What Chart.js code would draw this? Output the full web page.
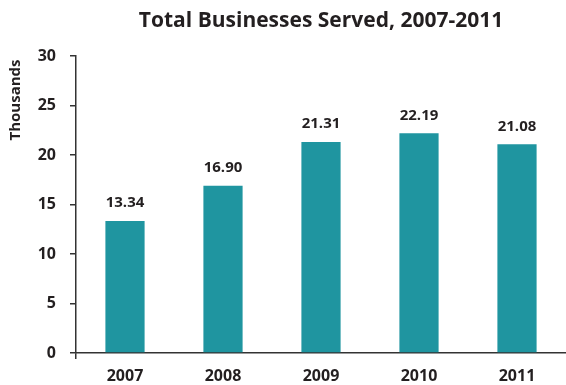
<!DOCTYPE html>
<html>
<head>
<meta charset="utf-8">
<script src="https://cdn.jsdelivr.net/npm/chart.js@4"></script>
<style>
  html, body { margin: 0; padding: 0; background: #fff; }
  #wrap { width: 566px; height: 385px; }
</style>
</head>
<body>
<div id="wrap"><canvas id="chartNegocios"></canvas></div>
<script>
// Datos de la gráfica
const years = ['2007', '2008', '2009', '2010', '2011'];
const businesses = [13.34, 16.90, 21.31, 22.19, 21.08];
const yTicks = [0, 5, 10, 15, 20, 25, 30];

const TEXT = '#231f20';
const TEAL = '#1f95a0';
const FONT = "'Open Sans', sans-serif";

// Título, etiqueta del eje y valores sobre las barras
const extras = {
    id: 'extras',
    afterDraw(chart) {
        const ctx = chart.ctx;
        const area = chart.chartArea;
        ctx.save();
        ctx.fillStyle = TEXT;

        ctx.font = 'bold 21px ' + FONT;
        ctx.textAlign = 'center';
        ctx.textBaseline = 'middle';
        ctx.fillText('Total Businesses Served, 2007-2011', (area.left + area.right) / 2, 21);

        ctx.save();
        ctx.translate(16, 100);
        ctx.rotate(-Math.PI / 2);
        ctx.font = 'bold 15px ' + FONT;
        ctx.fillText('Thousands', 0, 0);
        ctx.restore();

        ctx.font = 'bold 15px ' + FONT;
        ctx.textBaseline = 'middle';
        chart.getDatasetMeta(0).data.forEach((bar, i) => {
            ctx.fillText(businesses[i].toFixed(2), bar.x, bar.y - 18);
        });
        ctx.restore();
    }
};

new Chart(document.getElementById('chartNegocios'), {
    type: 'bar',
    data: {
        labels: years,
        datasets: [{
            data: businesses,
            backgroundColor: TEAL,
            barPercentage: 0.4,
            categoryPercentage: 1
        }]
    },
    options: {
        responsive: true,
        maintainAspectRatio: false,
        animation: false,
        layout: { padding: { top: 56, right: 0, left: 0, bottom: 0 } },
        plugins: {
            legend: { display: false },
            tooltip: { enabled: false }
        },
        scales: {
            y: {
                min: 0,
                max: 30,
                afterFit(scale) { scale.width = 76; },
                afterBuildTicks(scale) { scale.ticks = yTicks.map(v => ({ value: v })); },
                border: { display: true, color: '#333', width: 1.5 },
                grid: { drawOnChartArea: false, tickLength: 6, color: '#333', lineWidth: 1.5 },
                ticks: { color: TEXT, padding: 14, font: { family: FONT, size: 16, weight: 'bold' } }
            },
            x: {
                afterFit(scale) { scale.height = 32; },
                border: { display: true, color: '#333', width: 1.5 },
                grid: {
                    drawOnChartArea: false,
                    tickLength: 6,
                    lineWidth: 1.5,
                    color: (c) => c.index === 0 ? '#333' : 'rgba(0,0,0,0)'
                },
                ticks: { color: TEXT, padding: 8, font: { family: FONT, size: 16, weight: 'bold' } }
            }
        }
    },
    plugins: [extras]
});
</script>
</body>
</html>
